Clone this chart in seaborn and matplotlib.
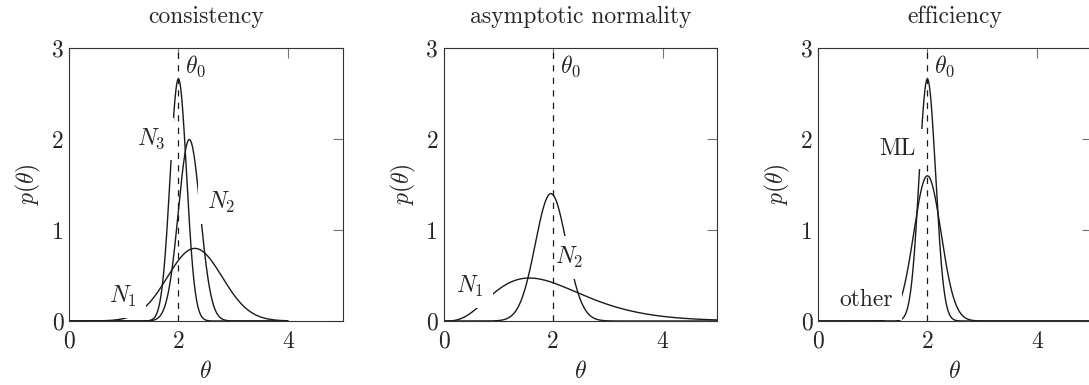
import numpy as np
import matplotlib
matplotlib.use("Agg")
import matplotlib.pyplot as plt
import seaborn as sns
from math import gamma as gamma_fn

# ---- data -----------------------------------------------------------------
titles = ["consistency", "asymptotic normality", "efficiency"]
theta0 = 2.0

# consistency: estimator densities for growing sample sizes
cons_labels = [r"$N_1$", r"$N_2$", r"$N_3$"]
cons_means = [2.3, 2.2, 2.0]
cons_sds = [0.5, 0.2, 0.15]

# asymptotic normality: skewed small-sample density, near-normal large-sample density
asym_labels = [r"$N_1$", r"$N_2$"]
asym_gamma_shape = 4.6
asym_gamma_scale = 0.435
asym_norm_mean = 1.96
asym_norm_sd = 0.285

# efficiency: maximum-likelihood vs another unbiased estimator
eff_labels = ["ML", "other"]
eff_means = [2.0, 2.0]
eff_sds = [0.15, 0.25]

x_ticks = [0, 2, 4]
y_ticks = [0, 1, 2, 3]


def normal_pdf(x, m, s):
    return np.exp(-0.5 * ((x - m) / s) ** 2) / (s * np.sqrt(2 * np.pi))


def gamma_pdf(x, k, s):
    return x ** (k - 1) * np.exp(-x / s) / (gamma_fn(k) * s ** k)


# ---- style ----------------------------------------------------------------
sns.set_theme(style="white")
plt.rcParams["font.family"] = ["cmr10", "DejaVu Serif"]
plt.rcParams["mathtext.fontset"] = "cm"
plt.rcParams["axes.formatter.use_mathtext"] = True
FS = 17

fig = plt.figure(figsize=(10.89, 3.85), dpi=100)
W, H = 1089.0, 385.0
lefts = [69.0, 443.7, 818.0]
ax_w, ax_top, ax_bot = 273.5, 48.0, 321.0

box = dict(boxstyle="square,pad=0.38", fc="white", ec="none")


def frame(ax, title):
    ax.set_xlim(0, 5)
    ax.set_ylim(0, 3)
    ax.set_xticks(x_ticks)
    ax.set_yticks(y_ticks)
    ax.set_xticklabels([str(t) for t in x_ticks], fontsize=FS)
    ax.set_yticklabels([str(t) for t in y_ticks], fontsize=FS)
    ax.tick_params(axis="both", direction="in", top=True, right=True,
                   length=7.2, width=0.8, color="0.45")
    ax.tick_params(axis="x", pad=7)
    ax.tick_params(axis="y", pad=4)
    for sp in ax.spines.values():
        sp.set_visible(True)
        sp.set_color("0.2")
        sp.set_linewidth(0.8)
        sp.set_zorder(8)
    ax.set_xlabel(r"$\theta$", fontsize=FS, labelpad=6)
    ax.set_ylabel(r"$p(\theta)$", fontsize=FS, labelpad=6)
    ax.set_title(title, fontsize=FS, pad=18)
    ax.axvline(theta0, color="0.1", lw=0.9, ls=(0, (5, 5)), zorder=6)
    ax.text(theta0 + 0.12, 2.8, r"$\theta_0$", fontsize=FS, ha="left",
            va="center", zorder=7)
    ax.grid(False)


def label(ax, x, y, s):
    ax.text(x, y, s, fontsize=FS, ha="center", va="center", bbox=box, zorder=5)


axes = [fig.add_axes([l / W, (H - ax_bot) / H, ax_w / W, (ax_bot - ax_top) / H])
        for l in lefts]

# consistency
ax = axes[0]
xs = np.linspace(0, 4, 600)
for m, s in zip(cons_means, cons_sds):
    sns.lineplot(x=xs, y=normal_pdf(xs, m, s), ax=ax, color="k", lw=1.0, zorder=3)
frame(ax, titles[0])
label(ax, 0.98, 0.27, cons_labels[0])
label(ax, 2.78, 1.30, cons_labels[1])
label(ax, 1.50, 2.00, cons_labels[2])

# asymptotic normality
ax = axes[1]
xs = np.linspace(0, 5, 700)
sns.lineplot(x=xs, y=gamma_pdf(xs, asym_gamma_shape, asym_gamma_scale), ax=ax,
             color="k", lw=1.0, zorder=3)
sns.lineplot(x=xs, y=normal_pdf(xs, asym_norm_mean, asym_norm_sd), ax=ax,
             color="k", lw=1.0, zorder=3)
frame(ax, titles[1])
label(ax, 0.48, 0.38, asym_labels[0])
label(ax, 2.30, 0.70, asym_labels[1])

# efficiency
ax = axes[2]
for m, s in zip(eff_means, eff_sds):
    sns.lineplot(x=xs, y=normal_pdf(xs, m, s), ax=ax, color="k", lw=1.0, zorder=3)
frame(ax, titles[2])
label(ax, 1.45, 1.89, eff_labels[0])
label(ax, 0.88, 0.23, eff_labels[1])

fig.savefig("out.png", dpi=100)
